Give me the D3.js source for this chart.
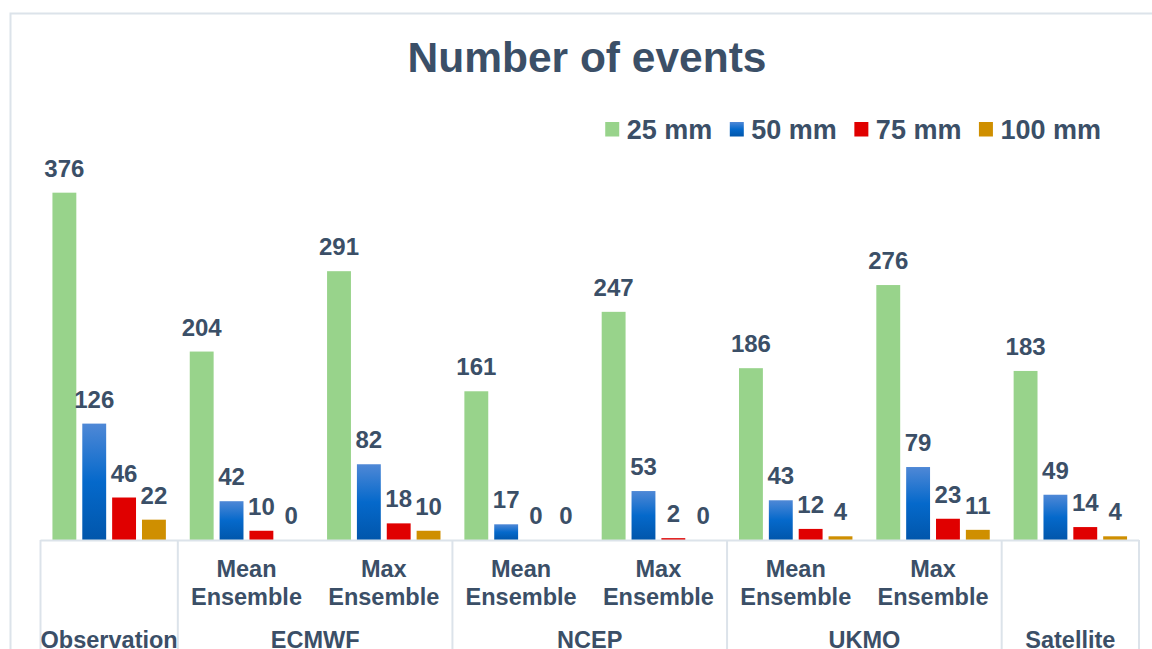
<!DOCTYPE html>
<html>
<head>
<meta charset="utf-8">
<script src="https://cdn.jsdelivr.net/npm/d3@7"></script>
<style>
  html, body { margin: 0; padding: 0; background: #ffffff; }
  svg { display: block; }
  text { font-family: "Liberation Sans", Arial, sans-serif; font-weight: bold; fill: #3b4f67; }
</style>
</head>
<body>
<svg id="chart" width="1152" height="649"></svg>
<script>
// Categories: [group, sub-label]
const groups = ["Observation", "ECMWF", "ECMWF", "NCEP", "NCEP", "UKMO", "UKMO", "Satellite"];
const subLabels = ["", "Mean Ensemble", "Max Ensemble", "Mean Ensemble", "Max Ensemble", "Mean Ensemble", "Max Ensemble", ""];
const seriesNames = ["25 mm", "50 mm", "75 mm", "100 mm"];
const values25 = [376, 204, 291, 161, 247, 186, 276, 183];
const values50 = [126, 42, 82, 17, 53, 43, 79, 49];
const values75 = [46, 10, 18, 0, 2, 12, 23, 14];
const values100 = [22, 0, 10, 0, 0, 4, 11, 4];
const seriesValues = [values25, values50, values75, values100];
const seriesFills = ["#98d38b", "url(#blueGrad)", "#e00000", "#cf8f00"];

const svg = d3.select("#chart");
const lineColor = "#dce3ea";

// Gradient for the 50 mm series
const defs = svg.append("defs");
const grad = defs.append("linearGradient").attr("id", "blueGrad")
  .attr("x1", 0).attr("y1", 0).attr("x2", 0).attr("y2", 1);
grad.append("stop").attr("offset", "0%").attr("stop-color", "#4f88d6");
grad.append("stop").attr("offset", "50%").attr("stop-color", "#0569cb");
grad.append("stop").attr("offset", "100%").attr("stop-color", "#0156ab");

// Outer chart border
svg.append("rect")
  .attr("x", 10.5).attr("y", 13.5).attr("width", 1200).attr("height", 700)
  .attr("fill", "none").attr("stroke", lineColor).attr("stroke-width", 2);

// Title
svg.append("text")
  .attr("x", 587).attr("y", 72)
  .attr("text-anchor", "middle")
  .style("font-size", "42.5px")
  .text("Number of events");

// Scales
const catIdx = d3.range(groups.length);
const x0 = d3.scaleBand().domain(catIdx).range([40.5, 1139]).paddingInner(0).paddingOuter(0);
const x1 = d3.scaleBand().domain(d3.range(seriesNames.length)).range([0, x0.bandwidth()])
  .paddingInner(0.2).paddingOuter(0.4);
const y = d3.scaleLinear().domain([0, 400]).range([540, 170.5]);

// Bars
const cat = svg.append("g").selectAll("g").data(catIdx).join("g")
  .attr("transform", i => `translate(${x0(i)},0)`);

cat.selectAll("rect")
  .data(i => seriesValues.map((vals, s) => ({ s, v: vals[i] })))
  .join("rect")
  .attr("x", d => x1(d.s))
  .attr("width", x1.bandwidth())
  .attr("y", d => y(d.v))
  .attr("height", d => y(0) - y(d.v))
  .attr("fill", d => seriesFills[d.s]);

// Value labels
cat.selectAll("text.val")
  .data(i => seriesValues.map((vals, s) => ({ s, v: vals[i] })))
  .join("text")
  .attr("class", "val")
  .attr("x", d => x1(d.s) + x1.bandwidth() / 2)
  .attr("y", d => y(d.v) - 16)
  .attr("text-anchor", "middle")
  .style("font-size", "24px")
  .text(d => d.v);

// Category axis: baseline and group separators
const axis = svg.append("g");
axis.append("line")
  .attr("x1", x0.range()[0]).attr("x2", x0.range()[1])
  .attr("y1", y(0) + 0.5).attr("y2", y(0) + 0.5)
  .attr("stroke", lineColor).attr("stroke-width", 2);

const boundaries = [0];
for (let i = 1; i < groups.length; i++) if (groups[i] !== groups[i - 1]) boundaries.push(i);
const sepX = boundaries.map(i => x0(i)).concat([x0.range()[1]]);
axis.selectAll("line.sep").data(sepX).join("line")
  .attr("class", "sep")
  .attr("x1", d => d).attr("x2", d => d)
  .attr("y1", y(0)).attr("y2", 700)
  .attr("stroke", lineColor).attr("stroke-width", 2);

// Sub-category labels (two lines)
const sub = axis.selectAll("text.sub").data(catIdx.filter(i => subLabels[i])).join("text")
  .attr("class", "sub")
  .attr("text-anchor", "middle")
  .style("font-size", "23.5px");
sub.each(function (i) {
  const parts = subLabels[i].split(" ");
  const t = d3.select(this);
  parts.forEach((p, k) => {
    t.append("tspan")
      .attr("x", x0(i) + x0.bandwidth() / 2)
      .attr("y", 577 + k * 27.5)
      .text(p);
  });
});

// Group labels
const groupSpans = boundaries.map((b, k) => {
  const end = k + 1 < boundaries.length ? boundaries[k + 1] : groups.length;
  return { name: groups[b], x: (x0(b) + x0(end - 1) + x0.bandwidth()) / 2 };
});
axis.selectAll("text.grp").data(groupSpans).join("text")
  .attr("class", "grp")
  .attr("x", d => d.x)
  .attr("y", 648)
  .attr("text-anchor", "middle")
  .style("font-size", "23.5px")
  .text(d => d.name);

// Legend, right-aligned
const legend = svg.append("g");
const items = legend.selectAll("g").data(seriesNames).join("g");
items.append("text")
  .attr("y", 138.5)
  .style("font-size", "27px")
  .text(d => d);
let cursor = 0;
const positions = [];
items.each(function (d, i) {
  const w = d3.select(this).select("text").node().getComputedTextLength();
  positions.push(cursor);
  cursor += 14 + 7.5 + w + (i < seriesNames.length - 1 ? 17.5 : 0);
});
const legendStart = 1101 - cursor;
items.attr("transform", (d, i) => `translate(${legendStart + positions[i]},0)`);
items.select("text").attr("x", 21.5);
items.insert("rect", "text")
  .attr("x", 0).attr("y", 122).attr("width", 14).attr("height", 14.5)
  .attr("fill", (d, i) => seriesFills[i]);
</script>
</body>
</html>
